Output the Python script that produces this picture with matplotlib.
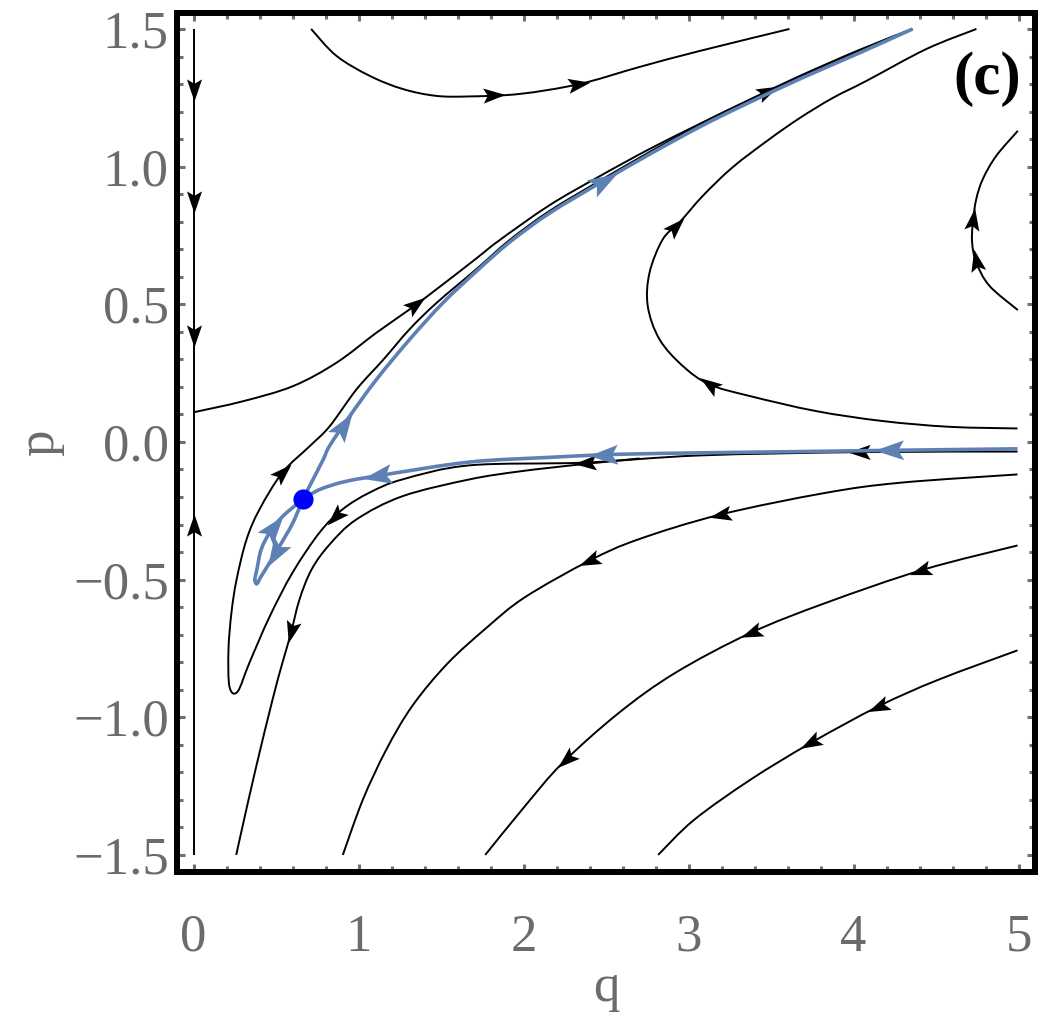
import numpy as np
import matplotlib
matplotlib.use('agg')
import matplotlib.pyplot as plt
from matplotlib.path import Path
from matplotlib.patches import PathPatch
from matplotlib.markers import MarkerStyle
from matplotlib.transforms import Affine2D

# streamlines, each ordered along the flow: (q, p)
line_a_top = [(0.0, 1.50), (0.0, 0.108)]
line_a_bot = [(0.0, -1.50), (0.0, 0.108)]
line_b = [(0.002, 0.108), (0.301, 0.148), (0.604, 0.203), (0.867, 0.288), (1.109, 0.397),
          (1.311, 0.482), (1.513, 0.573), (1.715, 0.667), (1.855, 0.733), (2.158, 0.860),
          (2.461, 0.965), (2.764, 1.064), (3.067, 1.155), (3.327, 1.231), (3.673, 1.329),
          (4.036, 1.424), (4.339, 1.496)]
line_d = [(4.994, -0.035), (4.036, -0.037), (3.067, -0.049), (2.370, -0.075), (1.673, -0.085),
          (1.267, -0.136), (1.067, -0.184), (0.903, -0.245), (0.764, -0.329), (0.600, -0.475),
          (0.461, -0.635), (0.339, -0.802), (0.267, -0.907), (0.218, -0.889), (0.212, -0.755),
          (0.230, -0.620), (0.261, -0.500), (0.321, -0.355), (0.400, -0.245), (0.539, -0.111),
          (0.703, -0.016), (0.824, 0.056), (0.988, 0.191), (1.152, 0.300), (1.309, 0.409),
          (1.473, 0.505), (1.715, 0.628), (1.915, 0.733), (2.158, 0.839), (2.461, 0.948),
          (2.764, 1.053), (3.067, 1.152), (3.309, 1.224), (3.673, 1.326), (4.036, 1.420),
          (4.358, 1.500)]
line_e = [(2.703, -0.060), (2.339, -0.082), (1.976, -0.107), (1.673, -0.136), (1.267, -0.197),
          (0.986, -0.282), (0.824, -0.373), (0.715, -0.464), (0.642, -0.573), (0.588, -0.700),
          (0.539, -0.802), (0.479, -0.936), (0.380, -1.179), (0.297, -1.397), (0.259, -1.500)]
line_f = [(4.994, 0.049), (4.582, 0.055), (4.176, 0.076), (3.774, 0.112), (3.370, 0.167),
          (3.127, 0.209), (2.965, 0.276), (2.824, 0.373), (2.753, 0.494), (2.764, 0.615),
          (2.844, 0.736), (2.945, 0.797), (3.087, 0.894), (3.268, 0.998), (3.491, 1.100),
          (3.673, 1.176), (3.873, 1.249), (4.077, 1.311), (4.441, 1.427), (4.745, 1.500)]
line_g = [(0.713, 1.500), (0.865, 1.403), (1.067, 1.330), (1.268, 1.282), (1.471, 1.257),
          (1.673, 1.255), (1.976, 1.264), (2.339, 1.300), (2.703, 1.362), (3.067, 1.420),
          (3.612, 1.500)]
line_h = [(4.996, 0.479), (4.824, 0.567), (4.744, 0.652), (4.719, 0.724), (4.723, 0.797),
          (4.744, 0.882), (4.784, 0.955), (4.865, 1.039), (4.996, 1.130)]
line_i = [(4.994, -0.118), (4.285, -0.148), (3.830, -0.185), (3.192, -0.264), (2.691, -0.355),
          (2.394, -0.433), (2.006, -0.565), (1.776, -0.675), (1.539, -0.805), (1.327, -0.958),
          (1.168, -1.118), (1.026, -1.300), (0.905, -1.500)]
line_j = [(4.994, -0.376), (4.422, -0.464), (3.830, -0.585), (3.375, -0.694), (2.919, -0.839),
          (2.576, -0.985), (2.235, -1.167), (2.007, -1.324), (1.768, -1.500)]
line_k = [(4.994, -0.757), (4.513, -0.864), (4.149, -0.961), (3.739, -1.094), (3.375, -1.227),
          (3.033, -1.373), (2.816, -1.500)]

arrows_a_top = [(0.0, 1.28), (0.0, 0.87), (0.0, 0.384)]
arrows_a_bot = [(0.0, -0.30)]
arrows_b = [(1.35, 0.50), (3.48, 1.28)]
arrows_d = [(4.036, -0.037), (2.370, -0.075), (0.842, -0.265), (0.539, -0.105)]
arrows_e = [(0.590, -0.690)]
arrows_f = [(3.127, 0.212), (2.925, 0.785)]
arrows_g = [(1.824, 1.256), (2.339, 1.300)]
arrows_h = [(4.764, 0.664), (4.733, 0.809)]
arrows_i = [(3.192, -0.260), (2.394, -0.433)]
arrows_j = [(4.400, -0.464), (3.375, -0.690), (2.258, -1.155)]
arrows_k = [(4.149, -0.961), (3.739, -1.094)]

# separatrices through the saddle
saddle = (0.662, -0.209)
blue_unstable = [(0.662, -0.209), (0.703, -0.161), (0.786, -0.064), (0.824, -0.015), (0.947, 0.094),
                 (1.109, 0.227), (1.311, 0.373), (1.513, 0.506), (1.715, 0.620), (1.915, 0.725),
                 (2.158, 0.831), (2.461, 0.940), (2.764, 1.045), (3.067, 1.144), (3.309, 1.216),
                 (3.673, 1.318), (4.036, 1.413), (4.358, 1.500)]
blue_stable = [(4.994, -0.025), (4.285, -0.030), (3.673, -0.035), (3.145, -0.039), (2.562, -0.045),
               (2.158, -0.056), (1.673, -0.073), (1.168, -0.118), (0.925, -0.143), (0.764, -0.173),
               (0.662, -0.209)]
blue_loop = [(0.662, -0.209), (0.602, -0.294), (0.521, -0.379), (0.461, -0.439), (0.410, -0.488),
             (0.384, -0.515), (0.372, -0.500), (0.384, -0.464), (0.410, -0.391), (0.461, -0.330),
             (0.541, -0.270), (0.662, -0.209)]
arrows_unstable = [(0.927, 0.056), (2.479, 0.955)]
arrows_stable = [(4.218, -0.031), (2.479, -0.048), (1.109, -0.111)]
arrows_loop = [(0.495, -0.409), (0.495, -0.312)]

plt.rcParams['font.family'] = 'Liberation Serif'

fig = plt.figure(figsize=(10.42, 10.15), dpi=100)
ax = fig.add_axes([177 / 1042, 1 - 872 / 1015, 858 / 1042, 859 / 1015])
ax.set_xlim(-0.1, 5.1)
ax.set_ylim(-1.562, 1.558)

head = Path([(0.5, 0), (-0.5, 0.34), (-0.3, 0), (-0.5, -0.34), (0.5, 0)],
            [Path.MOVETO, Path.LINETO, Path.LINETO, Path.LINETO, Path.CLOSEPOLY])


def smooth_path(pts):
    # Catmull-Rom through the read points, drawn as cubic Bezier segments
    n = len(pts)
    if n < 3:
        return Path(pts)
    verts = [pts[0]]
    codes = [Path.MOVETO]
    for i in range(n - 1):
        p0 = pts[max(i - 1, 0)]
        p1, p2 = pts[i], pts[i + 1]
        p3 = pts[min(i + 2, n - 1)]
        verts += [p1 + (p2 - p0) / 6, p2 - (p3 - p1) / 6, p2]
        codes += [Path.CURVE4] * 3
    return Path(verts, codes)


def draw_stream(pts, arrows, color, lw, size, z):
    pts = np.asarray(pts, dtype=float)
    ax.add_patch(PathPatch(smooth_path(pts), fill=False, edgecolor=color, lw=lw, zorder=z,
                           capstyle='butt', joinstyle='round'))
    disp = ax.transData.transform(pts)
    for a in arrows:
        d = ax.transData.transform(a)
        best = None
        for i in range(len(disp) - 1):
            p0, p1 = disp[i], disp[i + 1]
            seg = p1 - p0
            t = np.clip(np.dot(d - p0, seg) / np.dot(seg, seg), 0, 1)
            proj = p0 + t * seg
            dist = np.hypot(*(d - proj))
            if best is None or dist < best[0]:
                best = (dist, proj, seg)
        _, proj, seg = best
        ang = np.degrees(np.arctan2(seg[1], seg[0]))
        q, p = ax.transData.inverted().transform(proj)
        m = MarkerStyle(head, transform=Affine2D().rotate_deg(ang))
        ax.plot([q], [p], marker=m, ms=size, color=color, mec='none', ls='none', zorder=z + 0.1)


black = 'black'
for pts, arr in [(line_a_top, arrows_a_top), (line_a_bot, arrows_a_bot), (line_b, arrows_b),
                 (line_d, arrows_d), (line_e, arrows_e), (line_f, arrows_f), (line_g, arrows_g),
                 (line_h, arrows_h), (line_i, arrows_i), (line_j, arrows_j), (line_k, arrows_k)]:
    draw_stream(pts, arr, black, 1.4, 16, 2)

blue = '#5E81B5'
draw_stream(blue_unstable, arrows_unstable, blue, 2.6, 21, 3)
draw_stream(blue_stable, arrows_stable, blue, 2.6, 21, 3)
draw_stream(blue_loop, arrows_loop, blue, 2.6, 21, 3)
ax.plot(*saddle, 'o', color='#0000FF', ms=14.5, mec='none', zorder=4)

ax.text(4.81, 1.32, '(c)', fontsize=44, fontweight='bold', ha='center', va='center', zorder=6,
        bbox=dict(facecolor='white', edgecolor='none', pad=2))

# frame and ticks
for s in ax.spines.values():
    s.set_linewidth(4.3)
    s.set_color('black')
    s.set_zorder(7)
grey = '#6b6b6b'
ax.set_xticks(np.arange(0, 6, 1))
ax.set_xticks(np.arange(0, 5.01, 0.2), minor=True)
ax.set_yticks(np.arange(-1.5, 1.51, 0.5))
ax.set_yticks(np.arange(-1.5, 1.51, 0.1), minor=True)
ax.set_yticklabels(['\u22121.5', '\u22121.0', '\u22120.5', '0.0', '0.5', '1.0', '1.5'])
ax.tick_params(which='both', direction='in', top=True, right=True, color='#707070',
               labelcolor=grey, labelsize=38, width=2.2)
ax.tick_params(which='major', length=6)
ax.tick_params(which='minor', length=4.3)
ax.tick_params(axis='x', which='major', pad=30)
ax.tick_params(axis='y', which='major', pad=6)

ax.set_xlabel('q', fontsize=38, color=grey, va='center')
ax.set_ylabel('p', fontsize=38, color=grey, va='center', ha='center')
ax.xaxis.set_label_coords(0.5, -0.135)
ax.yaxis.set_label_coords(-0.160, 0.5)

plt.savefig('out.png', dpi=100)
plt.close()
